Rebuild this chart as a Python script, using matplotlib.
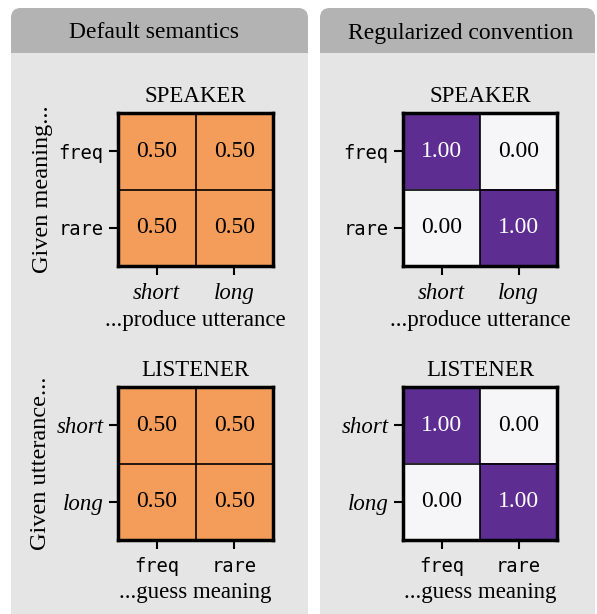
import matplotlib
matplotlib.use("Agg")
import matplotlib.pyplot as plt
import numpy as np
from matplotlib.patches import FancyBboxPatch, Rectangle
from matplotlib.colors import LinearSegmentedColormap

# ---- data ----
panel_titles = ["Default semantics", "Regularized convention"]
meanings = ["freq", "rare"]
utterances = ["short", "long"]
speaker_default = [[0.50, 0.50], [0.50, 0.50]]
listener_default = [[0.50, 0.50], [0.50, 0.50]]
speaker_regular = [[1.00, 0.00], [0.00, 1.00]]
listener_regular = [[1.00, 0.00], [0.00, 1.00]]

W, H = 597, 614
fig = plt.figure(figsize=(W / 100, H / 100), dpi=100)
fig.patch.set_facecolor("white")

SERIF = ["Liberation Serif", "DejaVu Serif"]
MONO = ["DejaVu Sans Mono"]


def fx(x):
    return x / W


def fy(y):
    return 1 - y / H


# ---- panel backgrounds ----
body_c = "#e5e5e5"
head_c = "#b3b3b3"
r = 10
for (x0, x1), tx, title in zip([(11, 308), (320, 595)], [154, 461], panel_titles):
    w = x1 - x0
    fig.patches.append(FancyBboxPatch((fx(x0 + r), fy(640 - r)), fx(w - 2 * r), (640 - 8 - 2 * r) / H,
                                      boxstyle=f"round,pad={r / W}", transform=fig.transFigure,
                                      facecolor=body_c, edgecolor="none", zorder=-3,
                                      mutation_aspect=W / H))
    fig.patches.append(FancyBboxPatch((fx(x0 + r), fy(53 - r)), fx(w - 2 * r), (53 - 8 - 2 * r) / H,
                                      boxstyle=f"round,pad={r / W}", transform=fig.transFigure,
                                      facecolor=head_c, edgecolor="none", zorder=-2,
                                      mutation_aspect=W / H))
    fig.patches.append(Rectangle((fx(x0), fy(53)), fx(w), 20 / H, transform=fig.transFigure,
                                 facecolor=head_c, edgecolor="none", zorder=-2))
    fig.text(fx(tx), fy(33), title, ha="center", va="center",
             family=SERIF, fontsize=17, zorder=3)

orange_cmap = LinearSegmentedColormap.from_list("o", ["#fbe3cf", "#f59e5b", "#c0561a"])
purple_cmap = LinearSegmentedColormap.from_list("p", ["#f6f6f8", "#5e2d91"])


def heat(ax, data, cmap, row_labels, col_labels, row_style, col_style, title, xlabel, ylabel):
    arr = np.array(data)
    ax.imshow(arr, cmap=cmap, vmin=0, vmax=1, aspect="auto")
    for i in range(arr.shape[0]):
        for j in range(arr.shape[1]):
            v = arr[i, j]
            col = "white" if (cmap is purple_cmap and v > 0.5) else "black"
            ax.text(j, i, f"{v:.2f}", ha="center", va="center", color=col,
                    family=SERIF, fontsize=17)
    ax.axhline(0.5, color="black", lw=1.2)
    ax.axvline(0.5, color="black", lw=1.2)
    for s in ax.spines.values():
        s.set_linewidth(2.5)
        s.set_color("black")
    ax.set_xticks(range(len(col_labels)))
    ax.set_yticks(range(len(row_labels)))
    if col_style == "mono":
        ax.set_xticklabels(col_labels, family=MONO, fontsize=13.5)
    else:
        ax.set_xticklabels(col_labels, family=SERIF, style="italic", fontsize=16.5)
    if row_style == "mono":
        ax.set_yticklabels(row_labels, family=MONO, fontsize=13.5)
    else:
        ax.set_yticklabels(row_labels, family=SERIF, style="italic", fontsize=16.5)
    ax.tick_params(axis="x", length=6.5, width=1.5, pad=6)
    ax.tick_params(axis="y", length=6.5, width=1.5, pad=4)
    ax.set_title(title, family=SERIF, fontsize=16.5, pad=8)
    ax.set_xlabel(xlabel, family=SERIF, fontsize=16.5, labelpad=4)
    if ylabel:
        ax.set_ylabel(ylabel, family=SERIF, fontsize=17.5, labelpad=4)


def ax_at(x0, y0, x1, y1):
    a = fig.add_axes([fx(x0), fy(y1), fx(x1 - x0), (y1 - y0) / H])
    a.set_zorder(5)
    return a


a1 = ax_at(118, 113, 273, 266)
heat(a1, speaker_default, orange_cmap, meanings, utterances, "mono", "italic",
     "SPEAKER", "...produce utterance", "Given meaning...")
a2 = ax_at(403, 113, 557, 266)
heat(a2, speaker_regular, purple_cmap, meanings, utterances, "mono", "italic",
     "SPEAKER", "...produce utterance", None)
a3 = ax_at(118, 387, 273, 540)
heat(a3, listener_default, orange_cmap, utterances, meanings, "italic", "mono",
     "LISTENER", "...guess meaning", "Given utterance...")
a4 = ax_at(403, 387, 557, 540)
heat(a4, listener_regular, purple_cmap, utterances, meanings, "italic", "mono",
     "LISTENER", "...guess meaning", None)

fig.savefig("out.png", dpi=100)
